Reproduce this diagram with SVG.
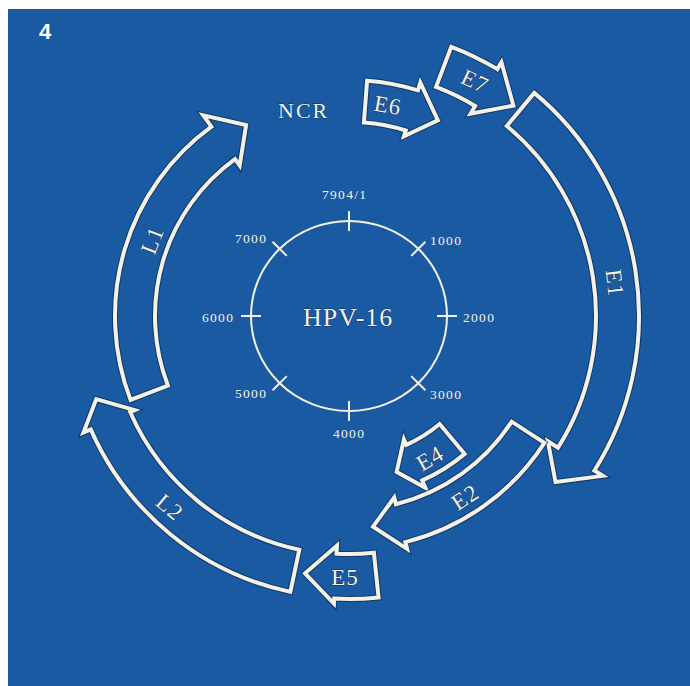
<svg xmlns="http://www.w3.org/2000/svg" width="690" height="686" viewBox="0 0 690 686">
<style>
.bg{fill:#1a5aa2}
.halo{fill:none;stroke:#0b2a55;stroke-width:6;stroke-opacity:.7;stroke-linejoin:miter}
.line{fill:none;stroke:#f4f1e6;stroke-width:4;stroke-linejoin:miter}
.ring{fill:none;stroke:#f4f1e6;stroke-width:2}
.tick{stroke:#f4f1e6;stroke-width:2}
.num{font-family:"Liberation Serif","DejaVu Serif",serif;font-size:13.5px;letter-spacing:1.3px;fill:#f6f3ea}
.gene{font-family:"Liberation Serif","DejaVu Serif",serif;font-size:23px;letter-spacing:1px;fill:#f4f1e6;text-anchor:middle;stroke:#0b2a55;stroke-width:0.8px;paint-order:stroke}
.big{font-family:"Liberation Serif","DejaVu Serif",serif;fill:#f4f1e6;stroke:#0b2a55;stroke-width:0.8px;paint-order:stroke}
</style>
<rect x="0" y="0" width="690" height="686" fill="#ffffff"/>
<rect class="bg" x="8" y="9" width="682" height="677"/>
<text x="39" y="39" font-family="Liberation Sans, Arial, sans-serif" font-weight="bold" font-size="22" fill="#ffffff">4</text>

<g id="genome">
<ellipse class="ring" cx="349" cy="316" rx="98" ry="95"/>
<g id="ticks">
<line class="tick" x1="349" y1="211" x2="349" y2="231"/>
<line class="tick" x1="437" y1="316" x2="457" y2="316"/>
<line class="tick" x1="349" y1="401" x2="349" y2="421"/>
<line class="tick" x1="241" y1="316" x2="261" y2="316"/>
<line class="tick" x1="411.2" y1="376.1" x2="425.4" y2="390.3"/>
<line class="tick" x1="411.2" y1="255.9" x2="425.4" y2="241.7"/>
<line class="tick" x1="286.8" y1="376.1" x2="272.6" y2="390.3"/>
<line class="tick" x1="286.8" y1="255.9" x2="272.6" y2="241.7"/>
</g>
<text class="num" x="322" y="199">7904/1</text>
<text class="num" x="430" y="245">1000</text>
<text class="num" x="463" y="322">2000</text>
<text class="num" x="430" y="399">3000</text>
<text class="num" x="333" y="438">4000</text>
<text class="num" x="235" y="398">5000</text>
<text class="num" x="202" y="322">6000</text>
<text class="num" x="235" y="243">7000</text>
<text class="big" x="303" y="326" font-size="26" letter-spacing="1">HPV-16</text>
</g>

<g id="NCR">
<text class="big" x="278" y="118" font-size="22" letter-spacing="2">NCR</text>
</g>

<g id="L1">
<path class="halo" d="M130.54,399.86 A234,234 0 0 1 211.46,126.69 L203.23,115.36 L246.12,124.94 L239.67,165.52 L234.97,159.05 A194,194 0 0 0 167.89,385.52 Z"/>
<path class="line" d="M130.54,399.86 A234,234 0 0 1 211.46,126.69 L203.23,115.36 L246.12,124.94 L239.67,165.52 L234.97,159.05 A194,194 0 0 0 167.89,385.52 Z"/>
<text class="gene" transform="translate(152,240) rotate(-69)" y="8">L1</text>
</g>

<g id="E6">
<path class="halo" d="M367.11,80.70 A236,236 0 0 1 418.0,90.31 L420.34,82.66 L437.82,120.20 L403.97,136.22 L405.72,130.48 A194,194 0 0 0 363.88,122.57 Z"/>
<path class="line" d="M367.11,80.70 A236,236 0 0 1 418.0,90.31 L420.34,82.66 L437.82,120.20 L403.97,136.22 L405.72,130.48 A194,194 0 0 0 363.88,122.57 Z"/>
<text class="gene" transform="translate(388,105) rotate(10)" y="8">E6</text>
</g>

<g id="E7">
<path class="halo" d="M451.27,46.77 A288,288 0 0 1 497.33,69.14 L501.45,62.28 L513.38,105.60 L470.55,113.71 L475.18,105.99 A245,245 0 0 0 436.0,86.97 Z"/>
<path class="line" d="M451.27,46.77 A288,288 0 0 1 497.33,69.14 L501.45,62.28 L513.38,105.60 L470.55,113.71 L475.18,105.99 A245,245 0 0 0 436.0,86.97 Z"/>
<text class="gene" transform="translate(475,81) rotate(25)" y="8">E7</text>
</g>

<g id="E1">
<path class="halo" d="M534.25,92.87 A290,290 0 0 1 594.40,470.54 L602.86,475.86 L555.53,482.05 L547.85,441.23 L558.01,447.62 A247,247 0 0 0 506.78,125.96 Z"/>
<path class="line" d="M534.25,92.87 A290,290 0 0 1 594.40,470.54 L602.86,475.86 L555.53,482.05 L547.85,441.23 L558.01,447.62 A247,247 0 0 0 506.78,125.96 Z"/>
<text class="gene" transform="translate(615,283) rotate(83)" y="8">E1</text>
</g>

<g id="E4">
<path class="halo" d="M464.70,453.89 A180,180 0 0 1 422.21,480.44 L425.47,487.75 L396.66,471.88 L403.91,439.33 L406.35,444.81 A141,141 0 0 0 439.63,424.01 Z"/>
<path class="line" d="M464.70,453.89 A180,180 0 0 1 422.21,480.44 L425.47,487.75 L396.66,471.88 L403.91,439.33 L406.35,444.81 A141,141 0 0 0 439.63,424.01 Z"/>
<text class="gene" transform="translate(430,458) rotate(-30)" y="8">E4</text>
</g>

<g id="E2">
<path class="halo" d="M544.41,442.90 A233,233 0 0 1 405.37,542.08 L407.06,548.87 L373.0,526.64 L394.24,497.45 L395.93,504.24 A194,194 0 0 0 511.70,421.66 Z"/>
<path class="line" d="M544.41,442.90 A233,233 0 0 1 405.37,542.08 L407.06,548.87 L373.0,526.64 L394.24,497.45 L395.93,504.24 A194,194 0 0 0 511.70,421.66 Z"/>
<text class="gene" transform="translate(465,497) rotate(-33)" y="8">E2</text>
</g>

<g id="E5">
<path class="halo" d="M378.58,597.45 A283,283 0 0 1 334.19,598.61 L333.93,603.61 L305.02,573.27 L336.96,545.68 L336.54,553.67 A238,238 0 0 0 373.88,552.70 Z"/>
<path class="line" d="M378.58,597.45 A283,283 0 0 1 334.19,598.61 L333.93,603.61 L305.02,573.27 L336.96,545.68 L336.54,553.67 A238,238 0 0 0 373.88,552.70 Z"/>
<text class="gene" transform="translate(345,577) rotate(0)" y="8">E5</text>
</g>

<g id="L2">
<path class="halo" d="M290.37,591.84 A282,282 0 0 1 90.78,429.35 L83.46,432.57 L96.28,399.06 L134.74,410.06 L130.16,412.07 A239,239 0 0 0 299.31,549.78 Z"/>
<path class="line" d="M290.37,591.84 A282,282 0 0 1 90.78,429.35 L83.46,432.57 L96.28,399.06 L134.74,410.06 L130.16,412.07 A239,239 0 0 0 299.31,549.78 Z"/>
<text class="gene" transform="translate(170,507) rotate(40)" y="8">L2</text>
</g>

<g id="connectors"></g>
</svg>
